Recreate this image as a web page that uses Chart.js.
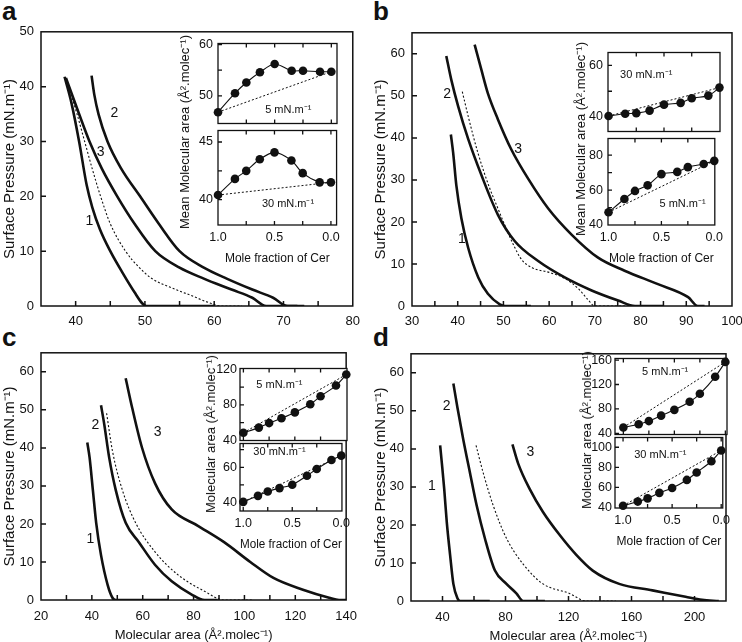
<!DOCTYPE html>
<html>
<head>
<meta charset="utf-8">
<script src="https://cdn.jsdelivr.net/npm/chart.js@4.4.1/dist/chart.umd.min.js"></script>
<style>
  body { margin: 0; background: #fff; }
  #fig { position: relative; width: 742px; height: 642px; overflow: hidden; font-family: "Liberation Sans", Arial, sans-serif; color: #111; }
  #fig canvas { position: absolute; }
  .lt { position: absolute; font-weight: bold; font-size: 26px; line-height: 26px; }
  .yt { position: absolute; font-size: 13px; white-space: nowrap; transform: translate(-50%, -50%) rotate(-90deg); }
</style>
</head>
<body>
<div id="fig">
  <div class="lt" style="left:2px;top:-2px">a</div>
  <div class="lt" style="left:373px;top:-2px">b</div>
  <div class="lt" style="left:2px;top:324px">c</div>
  <div class="lt" style="left:373px;top:324px">d</div>
</div>
<script>
// ---- isotherms (molecular area, surface pressure) ----
const aX1 = [38.4, 39.4, 40.5, 41.6, 42.4, 43.5, 45.0, 46.8, 48.5, 49.6, 50.2, 60];
const aY1 = [41.8, 37, 30, 22, 18, 14, 10, 6, 2.5, 0.5, 0, 0];
const aX2 = [42.3, 42.7, 43.3, 44.6, 46.6, 49.3, 52.0, 55.0, 58.5, 61.8, 65.5, 68.5, 70.6, 72];
const aY2 = [42, 38.5, 35, 30, 25, 20, 15, 10, 7, 5, 3, 1.5, 0, 0];
const aX3 = [38.6, 40.5, 42.0, 43.8, 46.0, 48.5, 51.5, 55.0, 58.5, 62.5, 65.5, 67.5, 73];
const aY3 = [41.6, 35, 30, 25, 20, 15, 10, 7, 5, 3, 1.5, 0, 0];
const aXd = [38.6, 40.2, 41.3, 42.4, 43.6, 45.0, 47.2, 49.2, 51.0, 53.5, 56.5, 59.5, 61, 64];
const aYd = [41.4, 35, 30, 25, 20, 15, 10, 7, 5, 3.5, 2, 0.5, 0, 0];

const bX1 = [38.5, 39.0, 39.7, 40.8, 42.3, 44.5, 46.6, 49.2, 50.3, 56];
const bY1 = [40.8, 36.5, 28.7, 20.9, 13.8, 6.8, 2.9, 0.4, 0, 0];
const bX2 = [37.5, 38.6, 40.1, 42.3, 45.2, 48.8, 52.5, 57.6, 63.4, 69.3, 75.1, 78.8, 85];
const bY2 = [59.5, 53.8, 47.5, 39.7, 31.1, 21.7, 15.4, 10.7, 6.8, 3.7, 1.3, 0, 0];
const bX3 = [43.7, 45.2, 46.6, 48.8, 51.7, 55.4, 59.8, 64.9, 70.7, 76.5, 83.8, 90.4, 92.5, 94];
const bY3 = [62.2, 56.1, 50.6, 44.4, 37.3, 30.3, 23.2, 17.0, 11.5, 8.4, 5.2, 2.1, 0, 0];
const bXd = [41.0, 42.3, 44.4, 47.0, 48.5, 50.0, 52.0, 54.0, 56.5, 60.0, 63.5, 66.5, 68.5, 70.0, 80];
const bYd = [51.0, 45.1, 36.5, 28, 24, 20, 15, 11, 9, 8, 6.5, 4, 1.5, 0, 0];

const cX1 = [38.2, 39.1, 40.4, 41.7, 43.6, 46.2, 48.1, 49.4, 70];
const cY1 = [41.4, 37.5, 28.9, 20.3, 11.8, 4.0, 0.6, 0, 0];
const cX2 = [43.6, 44.9, 46.8, 49.4, 53.3, 58.5, 64.9, 71.4, 79.1, 84.3, 89.5];
const cY2 = [51.2, 46.1, 37.5, 28.9, 20.3, 15.2, 9.2, 4.9, 1.5, 0, 0];
const cX3 = [53.3, 55.9, 59.7, 64.9, 71.4, 81.7, 92.0, 102.3, 111.4, 123.0, 133.3, 137.2, 140];
const cY3 = [58.3, 50.4, 40.1, 30.6, 23.8, 19.5, 15.2, 10.0, 5.8, 2.7, 0.6, 0, 0];
const cXd = [45.8, 48.1, 52.0, 57.2, 64.9, 73.9, 84.3, 92.0, 103.6];
const cYd = [49.1, 39.2, 28.9, 20.3, 12.6, 6.6, 2.3, 0, 0];

const dX1 = [38.5, 39.6, 41.1, 42.7, 44.8, 46.9, 49.5, 51.2, 70];
const dY1 = [40.9, 36.2, 29.4, 20.8, 12.2, 4.5, 0.7, 0, 0];
const dX2 = [46.9, 49.5, 53.3, 57.5, 61.7, 66.9, 73.3, 80.6, 86.9, 91.2, 105];
const dY2 = [57.2, 50.8, 42.2, 33.6, 25.1, 16.5, 8.0, 4.5, 2.0, 0, 0];
const dX3 = [84.4, 88.0, 95.4, 103.8, 114.3, 124.8, 135.4, 152.2, 173.3, 194.3, 204.8, 215.4];
const dY3 = [41.2, 36.2, 29.4, 23.4, 17.4, 12.2, 8.0, 4.5, 2.8, 1.1, 0.3, 0];
const dXd = [61.3, 65.9, 72.2, 80.6, 91.2, 103.8, 120.6, 131.2, 150];
const dYd = [40.9, 33.6, 25.1, 16.5, 9.7, 4.5, 2.0, 0, 0];

// curve numbers (position in data units)
const curveNames = ['1', '2', '3'];
const aLblX = [42.0, 45.6, 43.6], aLblY = [15.4, 35.2, 28.0];
const bLblX = [40.9, 37.7, 53.2], bLblY = [16.0, 50.5, 37.3];
const cLblX = [39.4, 41.4, 65.9], cLblY = [16.1, 45.9, 44.2];
const dLblX = [33.3, 42.7, 95.8], dLblY = [30.2, 51.2, 39.2];

// ---- insets: mean molecular area vs mole fraction of Cer ----
const cer = [1, 0.85, 0.75, 0.63, 0.5, 0.35, 0.25, 0.1, 0];
const aIns5 = [46.8, 50.5, 52.6, 54.6, 56.2, 54.9, 54.9, 54.7, 54.7];
const aIns30 = [40.4, 41.8, 42.5, 43.5, 44.1, 43.4, 42.3, 41.5, 41.5];
const bIns30 = [40.4, 41.3, 41.5, 42.5, 44.8, 45.5, 47.3, 48.3, 51.4];
const bIns5 = [47.3, 54.9, 59.5, 62.7, 69.1, 70.4, 73.1, 74.9, 76.7];
const cIns5 = [48.7, 54.5, 59.6, 65.0, 71.6, 80.7, 89.8, 101.8, 114.2];
const cIns30 = [40.4, 43.8, 46.3, 48.2, 50.1, 55.2, 59.0, 64.1, 66.6];
const dIns5 = [49.5, 54.7, 60.0, 68.9, 78.4, 91.6, 104.7, 132.6, 157];
const dIns30 = [41.6, 45.8, 49.0, 54.5, 59.4, 67.4, 74.8, 86.0, 96.8];

// ---- ticks ----
const aXTicks = [40, 45, 50, 55, 60, 65, 70, 75, 80], aXLabels = [40, 50, 60, 70, 80];
const bXTicks = [35, 40, 45, 50, 55, 60, 65, 70, 75, 80, 85, 90, 95, 100], bXLabels = [30, 40, 50, 60, 70, 80, 90, 100];
const cXTicks = [20, 30, 40, 50, 60, 70, 80, 90, 100, 110, 120, 130, 140], cXLabels = [20, 40, 60, 80, 100, 120, 140];
const dXTicks = [40, 60, 80, 100, 120, 140, 160, 180, 200], dXLabels = [40, 80, 120, 160, 200];
const aYTicks = [0, 10, 20, 30, 40, 50];
const bcdYTicks = [0, 10, 20, 30, 40, 50, 60];
const insXTicks = [1, 0.75, 0.5, 0.25, 0], insXLabels = [1, 0.5, 0];
const aTopTicks = [50, 55, 60], aTopLabels = [50, 60];
const aBotTicks = [40, 42.5, 45], aBotLabels = [40, 45];
const bTopTicks = [40, 50, 60], bTopLabels = [40, 60];
const bBotTicks = [40, 50, 60, 70, 80], bBotLabels = [40, 60, 80];
const cTopTicks = [40, 60, 80, 100, 120], cTopLabels = [40, 80, 120];
const cBotTicks = [40, 50, 60, 70], cBotLabels = [40, 60];
const dTopTicks = [40, 80, 120, 160], dTopLabels = [40, 80, 120, 160];
const dBotTicks = [40, 60, 80, 100], dBotLabels = [40, 60, 80, 100];

const PI_TITLE = 'Surface Pressure (mN.m\u207B\u00B9)';
const AREA_TITLE = 'Molecular area (\u00C5\u00B2.molec\u207B\u00B9)';
const INK = '#111';

Chart.defaults.font.family = '"Liberation Sans", Arial, sans-serif';
Chart.defaults.color = INK;

const xy = (xs, ys) => xs.map((x, i) => ({ x: x, y: ys[i] }));

// box + inward ticks, drawn under the data
const frame = {
  id: 'frame',
  beforeDatasetsDraw(chart, args, o) {
    const { ctx, chartArea: r, scales } = chart;
    ctx.save();
    if (o.fill) { ctx.fillStyle = '#fff'; ctx.fillRect(r.left, r.top, r.width, r.height); }
    ctx.strokeStyle = INK;
    ctx.lineWidth = o.lw;
    ctx.beginPath();
    o.xt.forEach(v => {
      const p = scales.x.getPixelForValue(v);
      if (p < r.left + 1 || p > r.right - 1) return;
      ctx.moveTo(p, r.bottom); ctx.lineTo(p, r.bottom - o.len);
      if (o.top) { ctx.moveTo(p, r.top); ctx.lineTo(p, r.top + o.len); }
    });
    o.yt.forEach(v => {
      const p = scales.y.getPixelForValue(v);
      if (p < r.top + 1 || p > r.bottom - 1) return;
      ctx.moveTo(r.left, p); ctx.lineTo(r.left + o.len, p);
    });
    ctx.stroke();
    ctx.strokeRect(r.left, r.top, r.width, r.height);
    ctx.restore();
  }
};

// text placed at data coordinates
const notes = {
  id: 'notes',
  afterDatasetsDraw(chart, args, o) {
    const { ctx, scales } = chart;
    ctx.save();
    ctx.fillStyle = INK;
    ctx.font = o.font;
    ctx.textAlign = 'center';
    ctx.textBaseline = 'middle';
    (o.items || []).forEach(n => ctx.fillText(n.t, scales.x.getPixelForValue(n.x), scales.y.getPixelForValue(n.y)));
    ctx.restore();
  }
};

function put(l, t, w, h) {
  const c = document.createElement('canvas');
  c.width = w; c.height = h;
  c.style.left = l + 'px'; c.style.top = t + 'px';
  document.getElementById('fig').appendChild(c);
  return c;
}

function plot(o) {
  const [l, t, r, b] = o.box;
  const under = o.xh || o.pb;
  const cv = put(l - o.yw, t - o.pt, o.yw + (r - l) + o.pr, o.pt + (b - t) + under);
  return new Chart(cv, {
    type: 'scatter',
    data: { datasets: o.sets },
    plugins: [frame, notes],
    options: {
      responsive: false,
      animation: false,
      events: [],
      layout: { padding: { left: 0, top: o.pt, right: o.pr, bottom: o.xh ? 0 : o.pb } },
      plugins: {
        legend: { display: false },
        tooltip: { enabled: false },
        frame: { xt: o.x.ticks, yt: o.y.ticks, len: o.len, lw: o.lw, top: o.top, fill: o.fill },
        notes: { items: o.notes, font: o.noteFont }
      },
      scales: {
        x: {
          type: 'linear', reverse: !!o.x.reverse, min: o.x.min, max: o.x.max,
          afterBuildTicks: s => { s.ticks = o.x.ticks.concat(o.x.labels.filter(v => !o.x.ticks.includes(v))).map(v => ({ value: v })); },
          afterFit: s => { s.height = o.xh || 0; },
          grid: { display: false, drawTicks: false },
          border: { display: false },
          ticks: {
            display: !!o.xh, autoSkip: false, maxRotation: 0, padding: o.x.pad, font: { size: o.fs },
            callback: v => o.x.labels.includes(v) ? o.x.fmt(v) : ''
          },
          title: { display: !!o.x.title, text: o.x.title || '', font: { size: o.x.tsize || 13 }, padding: { top: 0, bottom: 2 } }
        },
        y: {
          type: 'linear', min: o.y.min, max: o.y.max,
          afterBuildTicks: s => { s.ticks = o.y.ticks.map(v => ({ value: v })); },
          afterFit: s => { s.width = o.yw; },
          grid: { display: false, drawTicks: false },
          border: { display: false },
          ticks: {
            autoSkip: false, padding: o.y.pad, font: { size: o.fs },
            callback: v => o.y.labels.includes(v) ? String(v) : ''
          },
          title: { display: !!o.y.title, text: o.y.title || '', font: { size: 15 }, padding: { top: 1, bottom: 0 } }
        }
      }
    }
  });
}

function curves(list) {
  return list.map(c => ({
    data: xy(c[0], c[1]), showLine: true, pointRadius: 0,
    borderColor: INK, borderWidth: c[2] ? 1.1 : 2.6, borderDash: c[2] ? [2, 2] : [],
    cubicInterpolationMode: 'monotone'
  }));
}

function labelsAt(xs, ys) {
  return xs.map((x, i) => ({ x: x, y: ys[i], t: curveNames[i] }));
}

function mainPanel(box, yw, pr, xh, x, yTicks, yMax, sets, lbl) {
  plot({
    box: box, yw: yw, pt: 10, pr: pr, xh: xh, len: 5, lw: 1.5, fs: 13,
    x: x,
    y: { min: 0, max: yMax, ticks: yTicks, labels: yTicks, pad: 7, title: PI_TITLE },
    sets: curves(sets), notes: lbl, noteFont: '14px "Liberation Sans", Arial, sans-serif'
  });
}

function insetSets(vals) {
  const ends = [{ x: cer[0], y: vals[0] }, { x: cer[cer.length - 1], y: vals[vals.length - 1] }];
  return [
    { data: ends, showLine: true, pointRadius: 0, borderColor: INK, borderWidth: 1, borderDash: [2, 2], clip: false },
    { data: xy(cer, vals), showLine: true, tension: 0.3, borderColor: INK, borderWidth: 1.1,
      pointRadius: 4.3, pointBackgroundColor: INK, pointBorderWidth: 0, clip: false }
  ];
}

function inset(box, xMin, xMax, ypad, top, bot, title, tx, ty) {
  const [l, r, t, m, b] = box;
  const xs = { min: xMin, max: xMax, reverse: true, ticks: insXTicks, labels: insXLabels, fmt: v => v.toFixed(1), pad: 5 };
  const nf = '11px "Liberation Sans", Arial, sans-serif';
  plot({
    box: [l, m, r, b], yw: 30, pt: 9, pr: 8, xh: 43, len: 4, lw: 1.3, top: true, fill: true, fs: 12.5,
    x: Object.assign({ title: 'Mole fraction of Cer', tsize: 12 }, xs),
    y: { min: bot.min, max: bot.max, ticks: bot.ticks, labels: bot.labels, pad: ypad },
    sets: insetSets(bot.vals), notes: [bot.note], noteFont: nf
  });
  plot({
    box: [l, t, r, m], yw: 30, pt: 9, pr: 8, pb: 9, xh: 0, len: 4, lw: 1.3, top: true, fill: true, fs: 12.5,
    x: xs,
    y: { min: top.min, max: top.max, ticks: top.ticks, labels: top.labels, pad: ypad },
    sets: insetSets(top.vals), notes: [top.note], noteFont: nf
  });
  const d = document.createElement('div');
  d.className = 'yt';
  d.style.left = tx + 'px';
  d.style.top = ty + 'px';
  d.textContent = title;
  document.getElementById('fig').appendChild(d);
}

const P5 = '5 mN.m\u207B\u00B9', P30 = '30 mN.m\u207B\u00B9';

// a
mainPanel([41, 27, 353, 306], 41, 15, 20,
  { min: 35, max: 80, ticks: aXTicks, labels: aXLabels, fmt: String, pad: 8 },
  aYTicks, 50,
  [[aX1, aY1], [aX2, aY2], [aX3, aY3], [aXd, aYd, true]], labelsAt(aLblX, aLblY));
inset([218, 337, 40, 127, 225], -0.05, 1.0, 5,
  { min: 44.6, max: 60.2, ticks: aTopTicks, labels: aTopLabels, vals: aIns5, note: { x: 0.38, y: 47.2, t: P5 } },
  { min: 37.8, max: 46, ticks: aBotTicks, labels: aBotLabels, vals: aIns30, note: { x: 0.38, y: 39.6, t: P30 } },
  'Mean Molecular area (\u00C5\u00B2.molec\u207B\u00B9)', 184, 132);

// b
mainPanel([412, 28, 732, 306], 41, 11, 20,
  { min: 30, max: 100, ticks: bXTicks, labels: bXLabels, fmt: String, pad: 8 },
  bcdYTicks, 65,
  [[bX1, bY1], [bX2, bY2], [bX3, bY3], [bXd, bYd, true]], labelsAt(bLblX, bLblY));
inset([608, 720, 49, 135, 225], -0.005, 1.005, 5,
  { min: 34.4, max: 65, ticks: bTopTicks, labels: bTopLabels, vals: bIns30, note: { x: 0.66, y: 56.4, t: P30 } },
  { min: 40, max: 89.5, ticks: bBotTicks, labels: bBotLabels, vals: bIns5, note: { x: 0.30, y: 52.2, t: P5 } },
  'Mean Molecular area (\u00C5\u00B2.molec\u207B\u00B9)', 580, 139);

// c
mainPanel([41, 348, 351, 600], 41, 15, 45,
  { min: 20, max: 140, ticks: cXTicks, labels: cXLabels, fmt: String, pad: 9, title: AREA_TITLE },
  bcdYTicks, 65,
  [[cX1, cY1], [cX2, cY2], [cX3, cY3], [cXd, cYd, true]], labelsAt(cLblX, cLblY));
inset([240, 347, 367, 442, 511], -0.007, 1.033, 3,
  { min: 40, max: 121, ticks: cTopTicks, labels: cTopLabels, vals: cIns5, note: { x: 0.65, y: 102.5, t: P5 } },
  { min: 35.2, max: 73.5, ticks: cBotTicks, labels: cBotLabels, vals: cIns30, note: { x: 0.63, y: 68.6, t: P30 } },
  AREA_TITLE, 210, 434);

// d
mainPanel([411, 349, 726, 601], 40, 14, 45,
  { min: 20, max: 220, ticks: dXTicks, labels: dXLabels, fmt: String, pad: 9, title: AREA_TITLE },
  bcdYTicks, 65,
  [[dX1, dY1], [dX2, dY2], [dX3, dY3], [dXd, dYd, true]], labelsAt(dLblX, dLblY));
inset([615, 727, 357, 436, 508], -0.016, 1.082, 3,
  { min: 38, max: 162.6, ticks: dTopTicks, labels: dTopLabels, vals: dIns5, note: { x: 0.59, y: 140, t: P5 } },
  { min: 39.4, max: 109.7, ticks: dBotTicks, labels: dBotLabels, vals: dIns30, note: { x: 0.62, y: 92.6, t: P30 } },
  AREA_TITLE, 586, 430);
</script>
</body>
</html>
